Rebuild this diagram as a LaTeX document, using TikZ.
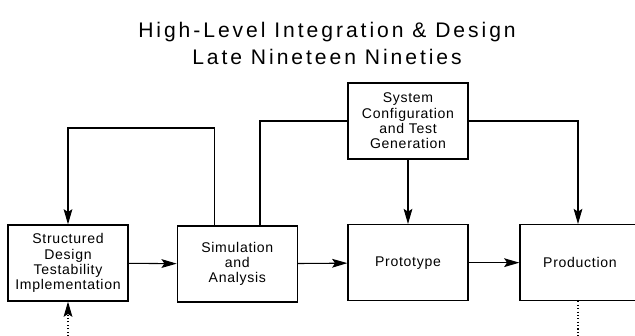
\documentclass[tikz,border=0pt]{standalone}
\usepackage{fontspec}
\setmainfont{Liberation Sans}[LetterSpace=5]
\newfontfamily\titlefont{Liberation Sans}[LetterSpace=14]
\usetikzlibrary{arrows.meta}

\begin{document}
\begin{tikzpicture}[
  box/.style={draw, rectangle, line width=1.1pt, minimum width=3.6cm, minimum height=2.28cm,
    align=center, font=\fontsize{12}{13}\selectfont},
  arr/.style={-{Stealth[length=13pt,width=7.5pt,inset=2.5pt]}},
  line width=0.9pt]
\useasboundingbox (0,0) rectangle (19.05,10.08);

\node[align=center, anchor=north, inner sep=0pt, font=\titlefont\fontsize{18}{23.5}\selectfont](title) at (9.81,9.44) {High-Level Integration \& Design\\Late Nineteen Nineties};

\node[box](SD) at (2.04,2.19) {Structured\\Design\\Testability\\Implementation};
\node[box](SA) at (7.12,2.16) {Simulation\\and\\Analysis};
\node[box](PT) at (12.24,2.2) {Prototype};
\node[box](PD) at (17.4,2.2) {Production};
\node[box](SC) at (12.24,6.45) {System\\Configuration\\and Test\\Generation};

\coordinate (loop) at (2.04,6.24);
\coordinate (in) at (2.04,0);
\coordinate (out) at (17.34,0);

\draw[arr](SD) to (SA);
\draw[arr](SA) to (PT);
\draw[arr](PT) to (PD);
\draw[arr]([xshift=-0.68cm]SA.north) |- (loop) to (SD.north);
\draw[-]([xshift=0.68cm]SA.north) |- (SC.west);
\draw[arr](SC) to (PT);
\draw[arr](SC.east) -| ([xshift=-0.06cm]PD.north);
\draw[arr, dotted](in) to (SD.south);
\draw[dotted]([xshift=-0.06cm]PD.south) to (out);
\end{tikzpicture}
\end{document}
